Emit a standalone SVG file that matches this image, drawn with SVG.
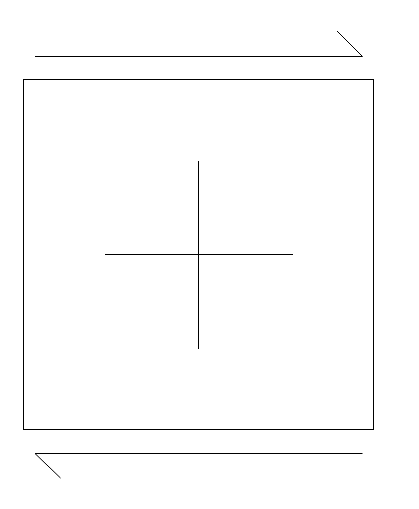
<svg xmlns="http://www.w3.org/2000/svg" width="419" height="509" viewBox="0 0 419 509">
<style>
.s{fill:none;stroke:#000;stroke-width:1}
</style>
<rect width="419" height="509" fill="#fff"/>
<g id="connectors">
<path class="s" d="M35,56.5 H362.5 L337,31"/>
<path class="s" d="M362.5,453.5 H35 L60.5,478"/>
</g>
<g id="frame">
<rect class="s" x="23.5" y="79.5" width="350" height="350"/>
</g>
<g id="cross">
<line class="s" x1="198.5" y1="161" x2="198.5" y2="349"/>
<line class="s" x1="105" y1="254.5" x2="293" y2="254.5"/>
</g>
</svg>
